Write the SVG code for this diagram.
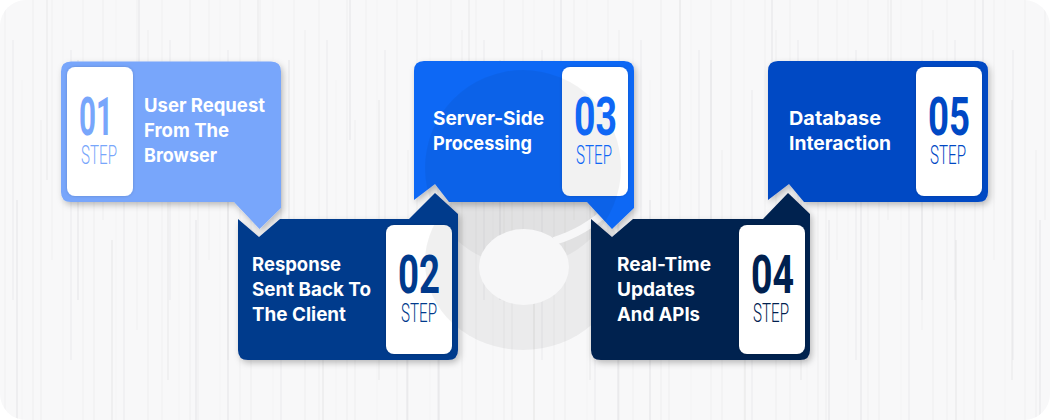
<svg xmlns="http://www.w3.org/2000/svg" width="1050" height="420" viewBox="0 0 1050 420">
<style>
.t{font-family:"Inter","Liberation Sans",sans-serif;font-weight:700;font-size:18.6px;fill:#fff}
.n{font-family:"Roboto","Liberation Sans",sans-serif;font-weight:700;font-size:53px}
.s{font-family:"Roboto","Liberation Sans",sans-serif;font-weight:300;font-size:25px}
.p{fill:#fff;filter:url(#ps)}
.c{filter:url(#sh)}
</style>
<defs>
<filter id="sh" x="-10%" y="-10%" width="125%" height="125%"><feDropShadow dx="2" dy="3" stdDeviation="3" flood-color="#000" flood-opacity=".25"/></filter>
<filter id="ps" x="-20%" y="-10%" width="140%" height="120%"><feDropShadow dx="0" dy="0" stdDeviation="1.6" flood-color="#000" flood-opacity=".18"/></filter>
<pattern id="st" width="157" height="420" patternUnits="userSpaceOnUse">
<g stroke="#d4d4d6" stroke-width=".7" fill="none">
<path d="M5 0V420" stroke-opacity=".3"/><path d="M13 40V300" stroke-opacity=".5"/><path d="M22 80V420" stroke-opacity=".25"/><path d="M33 0V420" stroke-opacity=".4"/><path d="M41 120V420" stroke-opacity=".45"/><path d="M52 0V260" stroke-opacity=".3"/><path d="M63 0V420" stroke-opacity=".25"/><path d="M71 50V360" stroke-opacity=".5"/><path d="M83 0V420" stroke-opacity=".35"/><path d="M94 150V420" stroke-opacity=".4"/><path d="M103 0V220" stroke-opacity=".45"/><path d="M116 0V420" stroke-opacity=".25"/><path d="M124 90V420" stroke-opacity=".5"/><path d="M137 0V330" stroke-opacity=".3"/><path d="M148 30V420" stroke-opacity=".4"/>
</g>
</pattern>
<pattern id="st2" width="211" height="420" patternUnits="userSpaceOnUse">
<g stroke="#c8c8ca" stroke-width=".8" fill="none">
<path d="M17 200V420" stroke-opacity=".5"/><path d="M47 0V180" stroke-opacity=".4"/><path d="M78 60V300" stroke-opacity=".5"/><path d="M112 240V420" stroke-opacity=".45"/><path d="M139 0V140" stroke-opacity=".5"/><path d="M168 100V380" stroke-opacity=".4"/><path d="M196 220V420" stroke-opacity=".5"/>
</g>
</pattern>
<clipPath id="c3"><path d="M424,61H624Q634,61 634,71V208L612,229L587,202H449L435,184L414,200V71Q414,61 424,61Z"/></clipPath>
<clipPath id="c2"><rect x="386" y="225" width="66" height="129" rx="8"/></clipPath>
<clipPath id="bg"><rect width="1050" height="420" rx="26"/></clipPath>
</defs>
<rect width="1050" height="420" fill="#fff"/>
<g id="background" clip-path="url(#bg)">
<rect width="1050" height="420" fill="#f8f8f9"/>
<rect width="1050" height="420" fill="url(#st)"/>
<rect width="1050" height="420" fill="url(#st2)"/>
<ellipse cx="523" cy="262" rx="98" ry="88" fill="#000" fill-opacity=".05"/>
<ellipse cx="523" cy="168" rx="98" ry="98" fill="#000" fill-opacity=".04"/>
<path d="M554,241Q585,232 610,208" fill="none" stroke="#f7f7f8" stroke-width="8"/>
<ellipse cx="524" cy="267" rx="45" ry="38" fill="#f7f7f8"/>
</g>
<g id="connectors"></g>
<g id="node-01">
<path class="c" fill="#78a6fb" d="M71,61.5H271Q281,61.5 281,71.5V208L259.5,229L234,202H71Q61,202 61,192V71.5Q61,61.5 71,61.5Z"/>
<rect class="p" x="67" y="67" width="66" height="129" rx="8"/>
<text class="n" x="79" y="135" fill="#78a6fb" textLength="34" lengthAdjust="spacingAndGlyphs">01</text>
<text class="s" x="81" y="164" fill="#78a6fb" textLength="36" lengthAdjust="spacingAndGlyphs">STEP</text>
<text class="t" x="144" y="112" textLength="121" lengthAdjust="spacingAndGlyphs">User Request</text>
<text class="t" x="144" y="137" textLength="85" lengthAdjust="spacingAndGlyphs">From The</text>
<text class="t" x="144" y="162" textLength="73" lengthAdjust="spacingAndGlyphs">Browser</text>
</g>
<g id="node-03">
<path class="c" fill="#0f67f5" d="M424,61H624Q634,61 634,71V208L612,229L587,202H449L435,184L414,200V71Q414,61 424,61Z"/>
<rect class="p" x="562" y="67" width="66" height="129" rx="8"/>
<ellipse cx="523" cy="168" rx="98" ry="98" fill="#000" fill-opacity=".05" clip-path="url(#c3)"/>
<text class="n" x="574" y="135" fill="#0f67f5" textLength="43" lengthAdjust="spacingAndGlyphs">03</text>
<text class="s" x="576" y="164" fill="#0f67f5" textLength="36" lengthAdjust="spacingAndGlyphs">STEP</text>
<text class="t" x="433" y="125" textLength="111" lengthAdjust="spacingAndGlyphs">Server-Side</text>
<text class="t" x="433" y="150" textLength="99" lengthAdjust="spacingAndGlyphs">Processing</text>
</g>
<g id="node-02">
<path class="c" fill="#003a8c" d="M238,219L259,237L280,219H409L435,193L458,214V350Q458,360 448,360H248Q238,360 238,350Z"/>
<rect class="p" x="386" y="225" width="66" height="129" rx="8"/>
<ellipse cx="523" cy="262" rx="98" ry="88" fill="#000" fill-opacity=".06" clip-path="url(#c2)"/>
<text class="n" x="398" y="293" fill="#003a8c" textLength="42" lengthAdjust="spacingAndGlyphs">02</text>
<text class="s" x="401" y="322" fill="#003a8c" textLength="36" lengthAdjust="spacingAndGlyphs">STEP</text>
<text class="t" x="252" y="271" textLength="89" lengthAdjust="spacingAndGlyphs">Response</text>
<text class="t" x="252" y="296" textLength="119" lengthAdjust="spacingAndGlyphs">Sent Back To</text>
<text class="t" x="252" y="321" textLength="94" lengthAdjust="spacingAndGlyphs">The Client</text>
</g>
<g id="node-05">
<path class="c" fill="#0048c4" d="M778,61H978Q988,61 988,71V192Q988,202 978,202H804L789,184L768,200V71Q768,61 778,61Z"/>
<rect class="p" x="916" y="67" width="66" height="129" rx="8"/>
<text class="n" x="928" y="135" fill="#0048c4" textLength="42" lengthAdjust="spacingAndGlyphs">05</text>
<text class="s" x="930" y="164" fill="#0048c4" textLength="36" lengthAdjust="spacingAndGlyphs">STEP</text>
<text class="t" x="789" y="125" textLength="92" lengthAdjust="spacingAndGlyphs">Database</text>
<text class="t" x="789" y="150" textLength="102" lengthAdjust="spacingAndGlyphs">Interaction</text>
</g>
<g id="node-04">
<path class="c" fill="#00204f" d="M591,219L612,237L633,219H763L788,193L810,214V350Q810,360 800,360H601Q591,360 591,350Z"/>
<rect class="p" x="739" y="225" width="66" height="129" rx="8"/>
<text class="n" x="751" y="293" fill="#00204f" textLength="43" lengthAdjust="spacingAndGlyphs">04</text>
<text class="s" x="753" y="322" fill="#00204f" textLength="36" lengthAdjust="spacingAndGlyphs">STEP</text>
<text class="t" x="617" y="271" textLength="94" lengthAdjust="spacingAndGlyphs">Real-Time</text>
<text class="t" x="617" y="296" textLength="78" lengthAdjust="spacingAndGlyphs">Updates</text>
<text class="t" x="617" y="321" textLength="83" lengthAdjust="spacingAndGlyphs">And APIs</text>
</g>
</svg>
